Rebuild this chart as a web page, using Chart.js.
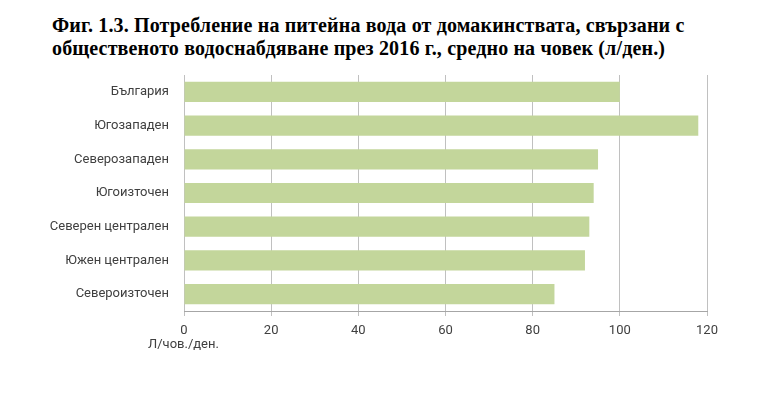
<!DOCTYPE html>
<html>
<head>
<meta charset="utf-8">
<script src="https://cdn.jsdelivr.net/npm/chart.js@4"></script>
<style>
  html, body { margin: 0; padding: 0; background: #fff; }
  #wrap { position: relative; width: 768px; height: 393px; overflow: hidden; }
  #title {
    position: absolute; left: 52px; top: 14px; white-space: nowrap;
    font-family: "Liberation Serif", "Times New Roman", serif;
    font-weight: bold; font-size: 20px; line-height: 23px; color: #000;
    letter-spacing: 0.15px;
  }
  #unit {
    position: absolute; left: 148px; top: 336px;
    font-family: Roboto, sans-serif; font-size: 13px; color: #404040;
  }
  canvas { position: absolute; left: 0; top: 0; }
</style>
</head>
<body>
<div id="wrap">
  <div id="title">Фиг. 1.3. Потребление на питейна вода от домакинствата, свързани с<br>общественото водоснабдяване през 2016 г., средно на човек (л/ден.)</div>
  <canvas id="bars" width="768" height="393"></canvas>
  <div id="unit">Л/чов./ден.</div>
</div>
<script>
// regions, top to bottom as in the figure
const regions = ['България', 'Югозападен', 'Северозападен', 'Югоизточен', 'Северен централен', 'Южен централен', 'Североизточен'];
// litres per person per day
const litres = [100, 118, 95, 94, 93, 92, 85];
const xTicks = [0, 20, 40, 60, 80, 100, 120];

(function(){
    function initBars(){
        const canvas = document.getElementById('bars');
        if(!canvas) return;
        const ctx = canvas.getContext('2d');

        new Chart(ctx, {
            type: 'bar',
            data: {
                labels: regions,
                datasets: [{
                    data: litres,
                    backgroundColor: '#c3d69b',
                    borderWidth: 0,
                    barPercentage: 0.6,
                    categoryPercentage: 1
                }]
            },
            options: {
                indexAxis: 'y',
                responsive: false,
                animation: false,
                layout: { padding: { left: 0, top: 75, right: 61, bottom: 0 } },
                scales: {
                    x: {
                        min: xTicks[0],
                        max: xTicks[xTicks.length - 1],
                        afterBuildTicks: (s) => { s.ticks = xTicks.map(v => ({ value: v })); },
                        afterFit: (s) => { s.height = 82; },
                        grid: { color: '#c0c0c0', lineWidth: 1, tickLength: 5 },
                        border: { color: '#a6a6a6' },
                        ticks: {
                            color: '#404040',
                            padding: 7,
                            font: { family: 'Roboto', size: 13 }
                        }
                    },
                    y: {
                        afterFit: (s) => { s.width = 184; },
                        grid: { display: false },
                        border: { display: false },
                        ticks: {
                            color: '#404040',
                            padding: 7,
                            font: { family: 'Roboto', size: 13 }
                        }
                    }
                },
                plugins: {
                    legend: { display: false },
                    tooltip: { enabled: false }
                }
            }
        });
    }

    if(document.readyState === 'loading'){
        document.addEventListener('DOMContentLoaded', initBars);
    } else {
        initBars();
    }
})();
</script>
</body>
</html>
